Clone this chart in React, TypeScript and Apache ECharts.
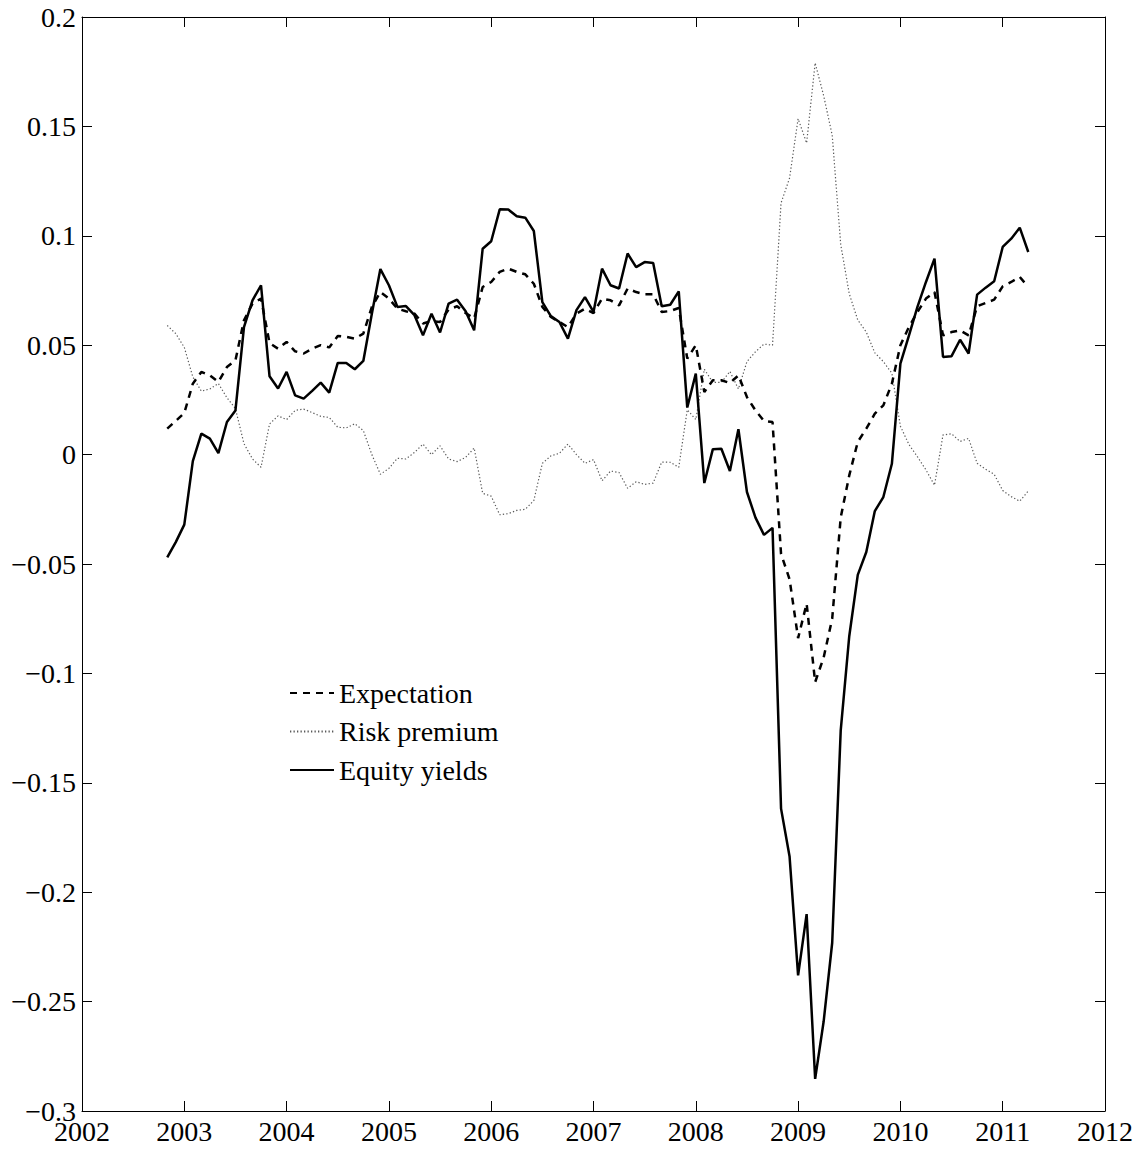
import React, { useEffect, useRef } from "react";
import * as echarts from "echarts";

// Monthly observations, first one is month index 10 counted from Jan 2002
const START_YEAR = 2002;
const FIRST_MONTH = 10;

const xTicks = [2002, 2003, 2004, 2005, 2006, 2007, 2008, 2009, 2010, 2011, 2012];

const expectation = [
  0.0119, 0.0154, 0.019, 0.0324, 0.0378, 0.0362, 0.0332, 0.040, 0.0431, 0.0614,
  0.069, 0.0713, 0.051, 0.0484, 0.0515, 0.0472, 0.0462, 0.0484, 0.050, 0.049,
  0.0542, 0.0538, 0.053, 0.0553, 0.0675, 0.0743, 0.0713, 0.0667, 0.0655, 0.0644,
  0.0599, 0.061, 0.0606, 0.0663, 0.0678, 0.0647, 0.0622, 0.0766, 0.0789, 0.0835,
  0.085, 0.0835, 0.0824, 0.0781, 0.0675, 0.0629, 0.0606, 0.0583, 0.0644, 0.0667,
  0.0647, 0.0713, 0.0705, 0.0682, 0.0759, 0.0743, 0.0733, 0.0733, 0.0652, 0.0656,
  0.067, 0.0439, 0.050, 0.0286, 0.034, 0.034, 0.0327, 0.0362, 0.0263, 0.0202,
  0.0154, 0.0149, -0.0454, -0.057, -0.0839, -0.0681, -0.104, -0.0927, -0.075, -0.0287,
  -0.0095, 0.0058, 0.0119, 0.0187, 0.0225, 0.0324, 0.050, 0.0583, 0.0652, 0.0713,
  0.0743, 0.0545, 0.056, 0.0568, 0.0545, 0.0678, 0.0693, 0.0708, 0.0769, 0.0789,
  0.0812, 0.0766,
];

const riskPremium = [
  0.059, 0.0553, 0.049, 0.0355, 0.029, 0.030, 0.0325, 0.026, 0.021, 0.005,
  -0.002, -0.0058, 0.014, 0.0177, 0.016, 0.0202, 0.0208, 0.0192, 0.0175, 0.017,
  0.0125, 0.0122, 0.0141, 0.011, 0.0, -0.009, -0.0063, -0.0017, -0.002, 0.001,
  0.0048, 0.0, 0.004, -0.002, -0.0032, -0.0013, 0.003, -0.0177, -0.019, -0.0275,
  -0.027, -0.0255, -0.025, -0.021, -0.004, -0.0006, 0.0006, 0.0048, 0.0, -0.004,
  -0.0023, -0.012, -0.0075, -0.0082, -0.0154, -0.0124, -0.0136, -0.013, -0.0034, -0.0035,
  -0.0058, 0.0205, 0.016, 0.039, 0.033, 0.033, 0.038, 0.03, 0.0425, 0.047,
  0.0505, 0.050, 0.115, 0.1264, 0.1535, 0.1424, 0.179, 0.164, 0.146, 0.096,
  0.0735, 0.0615, 0.056, 0.0465, 0.0425, 0.0372, 0.013, 0.0046, -0.001, -0.007,
  -0.014, 0.009, 0.0095, 0.006, 0.0074, -0.004, -0.0067, -0.009, -0.0164, -0.0192,
  -0.0213, -0.0166,
];

const equityYields = [
  -0.047, -0.040, -0.032, -0.003, 0.0096, 0.0073, 0.0007, 0.0149, 0.0202, 0.0583,
  0.0705, 0.0774, 0.0358, 0.0302, 0.0378, 0.0271, 0.0256, 0.0291, 0.0329, 0.0283,
  0.0419, 0.0419, 0.039, 0.0428, 0.0644, 0.0848, 0.0774, 0.0675, 0.0679, 0.0637,
  0.0545, 0.0644, 0.0558, 0.069, 0.0708, 0.0655, 0.0568, 0.0941, 0.0975, 0.1121,
  0.112, 0.1089, 0.1083, 0.1022, 0.0697, 0.0633, 0.0606, 0.053, 0.066, 0.072,
  0.0652, 0.085, 0.0774, 0.0759, 0.0919, 0.0857, 0.088, 0.0876, 0.0678, 0.0685,
  0.0746, 0.0215, 0.037, -0.013, 0.0025, 0.0027, -0.0075, 0.0116, -0.0171, -0.0288,
  -0.0367, -0.0335, -0.1618, -0.1837, -0.238, -0.210, -0.2853, -0.259, -0.2231, -0.126,
  -0.083, -0.055, -0.0445, -0.0258, -0.0194, -0.0042, 0.0416, 0.0544, 0.0675, 0.0789,
  0.0896, 0.0446, 0.045, 0.0525, 0.0462, 0.0731, 0.0763, 0.0792, 0.0949, 0.0987,
  0.1037, 0.0926,
];

const seriesNames = ["Expectation", "Risk premium", "Equity yields"];

const FONT = "Liberation Serif";

function toPairs(arr: number[]) {
  return arr.map((v, i) => [START_YEAR + (FIRST_MONTH + i) / 12, v]);
}

function fmtY(v: number) {
  const s = parseFloat(v.toFixed(2)).toString();
  return s.replace("-", "\u2212");
}

export default function App() {
  const ref = useRef<HTMLDivElement>(null);
  useEffect(() => {
    if (!ref.current) return;
    const chart = echarts.init(ref.current, undefined, { renderer: "svg" });
    const axisCommon = {
      axisLine: { show: true, onZero: false, lineStyle: { color: "#000", width: 1 } },
      axisTick: { show: true, inside: true, length: 10, lineStyle: { color: "#000", width: 1 } },
      splitLine: { show: false },
    };
    const xBase = {
      type: "value",
      min: xTicks[0],
      max: xTicks[xTicks.length - 1],
      interval: 1,
      ...axisCommon,
    };
    const yBase = {
      type: "value",
      min: -0.3,
      max: 0.2,
      interval: 0.05,
      ...axisCommon,
    };
    chart.setOption({
      animation: false,
      backgroundColor: "#fff",
      textStyle: { fontFamily: FONT },
      grid: { left: 82, right: 43, top: 17, bottom: 39, containLabel: false },
      xAxis: [
        {
          ...xBase,
          position: "bottom",
          axisLabel: {
            show: true,
            fontFamily: FONT,
            fontSize: 28,
            color: "#000",
            margin: 6,
            formatter: (v: number) => String(v),
          },
        },
        { ...xBase, position: "top", axisLabel: { show: false } },
      ],
      yAxis: [
        {
          ...yBase,
          position: "left",
          axisLabel: {
            show: true,
            fontFamily: FONT,
            fontSize: 28,
            color: "#000",
            margin: 6,
            formatter: (v: number) => fmtY(v),
          },
        },
        { ...yBase, position: "right", axisLabel: { show: false } },
      ],
      legend: {
        data: seriesNames,
        orient: "vertical",
        left: 289,
        top: 679,
        padding: 0,
        itemWidth: 44,
        itemHeight: 14,
        itemGap: 10.5,
        itemStyle: { opacity: 0 },
        textStyle: { fontFamily: FONT, fontSize: 28, color: "#000", lineHeight: 28 },
        selectedMode: false,
      },
      series: [
        {
          name: "Risk premium",
          type: "line",
          data: toPairs(riskPremium),
          symbol: "none",
          lineStyle: { color: "#5a5a5a", width: 1.2, type: [1.3, 2.2] },
          itemStyle: { color: "#5a5a5a" },
          z: 2,
        },
        {
          name: "Expectation",
          type: "line",
          data: toPairs(expectation),
          symbol: "none",
          lineStyle: { color: "#000", width: 2.5, type: [7, 6] },
          itemStyle: { color: "#000" },
          z: 3,
        },
        {
          name: "Equity yields",
          type: "line",
          data: toPairs(equityYields),
          symbol: "none",
          lineStyle: { color: "#000", width: 2.5, type: "solid" },
          itemStyle: { color: "#000" },
          z: 4,
        },
      ],
    });
    return () => chart.dispose();
  }, []);
  return (
    <div
      ref={ref}
      style={{ position: "fixed", left: 0, top: 0, width: 1148, height: 1150, background: "#fff" }}
    />
  );
}
